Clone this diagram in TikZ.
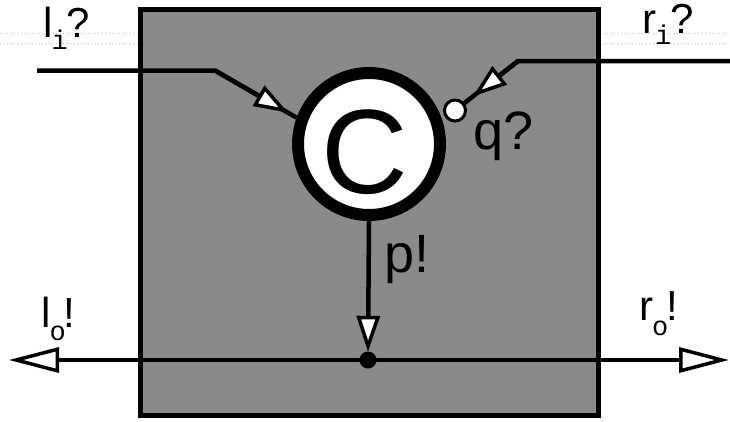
\documentclass[tikz,border=0pt]{standalone}
\usepackage{fontspec}
\setmainfont{Liberation Sans}
\newfontfamily\monof{Liberation Mono}
\usetikzlibrary{arrows.meta}
\definecolor{boxgray}{gray}{0.54}
\newcommand\sbx[2][12pt]{\raisebox{-#1}{\monof\fontsize{27}{27}\selectfont #2}}
\begin{document}
\begin{tikzpicture}[x=1pt,y=-1pt,
  wire/.style={line width=4.5pt},
  inarrow/.style={line width=4.5pt,-{Triangle[length=34pt,width=23pt,fill=white,line width=3.5pt]}},
  outarrow/.style={line width=4.5pt,-{Triangle[length=50pt,width=25pt,fill=white,line width=3.5pt]}},
  guide/.style={gray!50,line width=0.8pt,dash pattern=on 1pt off 2.5pt},
  lab/.style={inner sep=0pt,anchor=base west,font=\fontsize{42}{42}\selectfont},
  biglab/.style={inner sep=0pt,anchor=base west,font=\fontsize{54}{54}\selectfont}
]
\useasboundingbox (0,0) rectangle (730,421);
% faint guide lines
\draw[guide] (0,33) -- (140,33);
\draw[guide] (0,43) -- (140,43);
\draw[guide] (600,33) -- (730,33);
\draw[guide] (600,43) -- (730,43);
% box
\node[draw,line width=5pt,fill=boxgray,inner sep=0pt,minimum width=457.5pt,minimum height=405.5pt] (box) at (369.25,212.25) {};
% main nodes
\node[circle,draw,line width=12pt,fill=white,minimum size=142pt,inner sep=0pt] (C) at (369,144) {};
\node[inner sep=0pt,font=\fontsize{120}{120}\selectfont] (Cl) at (365,152) {C};
\node[circle,draw,line width=3pt,fill=white,minimum size=21pt,inner sep=0pt] (q) at (455,110.5) {};
\node[circle,fill=black,minimum size=16pt,inner sep=0pt] (dot) at (368,360) {};
% coordinates
\coordinate (li) at (37,70.5);
\coordinate (lb) at (215,70.5);
\coordinate (ri) at (730,61);
\coordinate (rb) at (518,61);
\coordinate (lo) at (9,360);
\coordinate (ro) at (729,360);
% input wires
\draw[wire] (li) -- (lb) -- (C.160);
\draw[inarrow,shorten >=10pt] (lb) -- (C.160);
\draw[wire] (ri) -- (rb) -- (q);
\draw[inarrow,shorten >=11pt] (rb) -- (q);
% p! arrow
\draw[line width=4.5pt,-{Triangle[length=36pt,width=23pt,fill=white,line width=3.5pt]}] (C.south) -- (dot.north);
% output wires
\draw[outarrow] (dot.center) -- (lo);
\draw[outarrow] (dot.center) -- (ro);
\node[circle,fill=black,minimum size=17pt,inner sep=0pt] at (dot) {};
% labels
\node[lab] (lil) at (43,37) {l\kern-1pt\sbx{i}\kern-1pt?};
\node[lab] (ril) at (642,33) {r\kern-1pt\sbx[11pt]{i}\kern-1pt?};
\node[lab] (lol) at (41,327) {l\kern-1pt\sbx[13pt]{o}\kern-2pt!};
\node[lab] (rol) at (639,320) {r\kern-1pt\sbx[15pt]{o}\kern-2pt!};
\node[biglab] (ql) at (473,149) {q?};
\node[biglab] (pl) at (384,272) {p!};
\end{tikzpicture}
\end{document}
